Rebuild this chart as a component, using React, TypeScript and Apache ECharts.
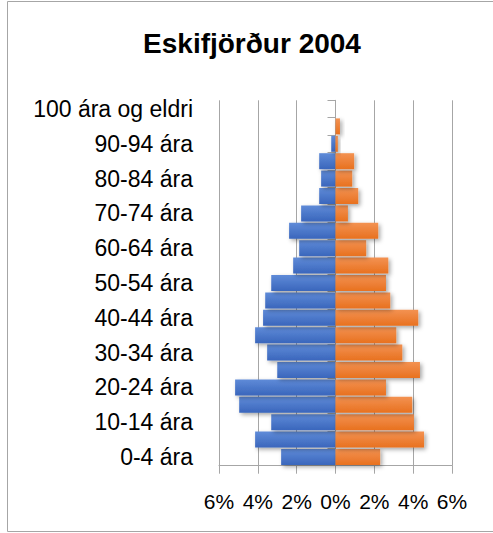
import React, { useEffect, useRef } from "react";
import * as echarts from "echarts";

const categories = [
  "0-4 ára", "5-9 ára", "10-14 ára", "15-19 ára", "20-24 ára", "25-29 ára",
  "30-34 ára", "35-39 ára", "40-44 ára", "45-49 ára", "50-54 ára", "55-59 ára",
  "60-64 ára", "65-69 ára", "70-74 ára", "75-79 ára", "80-84 ára", "85-89 ára",
  "90-94 ára", "95-99 ára", "100 ára og eldri",
];
const males = [2.8, 4.14, 3.31, 4.96, 5.17, 3.0, 3.52, 4.14, 3.73, 3.62, 3.31, 2.18, 1.87, 2.39, 1.77, 0.84, 0.74, 0.84, 0.22, 0, 0];
const females = [2.3, 4.56, 4.04, 3.95, 2.6, 4.35, 3.44, 3.13, 4.26, 2.82, 2.6, 2.72, 1.58, 2.2, 0.64, 1.17, 0.86, 0.96, 0.12, 0.23, 0];
const title = "Eskifjörður 2004";

const FONT = "'Liberation Sans', Arial, sans-serif";
const GRAY = "#A6A6A6";

export default function App() {
  const ref = useRef<HTMLDivElement>(null);
  useEffect(() => {
    if (!ref.current) return;
    const chart = echarts.init(ref.current, undefined, { renderer: "svg" });
    const blueGrad = new echarts.graphic.LinearGradient(0, 0, 0, 1, [
      { offset: 0, color: "#5F8BD8" },
      { offset: 1, color: "#3A66BC" },
    ]);
    const orangeGrad = new echarts.graphic.LinearGradient(0, 0, 0, 1, [
      { offset: 0, color: "#F39252" },
      { offset: 1, color: "#E8711F" },
    ]);
    chart.setOption({
      animation: false,
      backgroundColor: "#fff",
      graphic: [
        {
          type: "rect",
          shape: { x: 7.5, y: 1.5, width: 600, height: 530 },
          style: { fill: "none", stroke: GRAY, lineWidth: 1 },
          z: -1,
        },
        {
          type: "text",
          x: 252,
          y: 43,
          style: {
            text: title,
            font: `bold 28px ${FONT}`,
            fill: "#000",
            textAlign: "center",
            textVerticalAlign: "middle",
          },
        },
      ],
      grid: { left: 219, right: 41, top: 100.3, bottom: 67.3 },
      xAxis: {
        type: "value",
        min: -6,
        max: 6,
        interval: 2,
        axisLine: { show: true, lineStyle: { color: GRAY, width: 1 } },
        axisTick: { show: true, length: 8, lineStyle: { color: GRAY } },
        splitLine: { show: true, lineStyle: { color: GRAY, width: 1 } },
        axisLabel: {
          formatter: (v: number) => Math.abs(v) + "%",
          fontSize: 21,
          fontFamily: FONT,
          color: "#000",
          margin: 25,
        },
      },
      yAxis: [
        {
          type: "category",
          data: categories,
          position: "left",
          axisLine: { show: false, onZero: false },
          axisTick: { show: false },
          axisLabel: {
            interval: 1,
            fontSize: 23,
            fontFamily: FONT,
            color: "#000",
            margin: 26,
          },
        },
        {
          type: "category",
          data: categories,
          position: "left",
          axisLine: { show: true, onZero: true, lineStyle: { color: GRAY, width: 1 } },
          axisTick: { show: true, length: 8, lineStyle: { color: GRAY } },
          axisLabel: { show: false },
        },
      ],
      series: [
        {
          name: "Karlar",
          type: "bar",
          yAxisIndex: 0,
          data: males.map((v) => -v),
          barCategoryGap: "8%",
          barGap: "-100%",
          itemStyle: {
            color: blueGrad,
            shadowBlur: 4,
            shadowOffsetX: 2,
            shadowOffsetY: 2,
            shadowColor: "rgba(0,0,0,0.35)",
          },
        },
        {
          name: "Konur",
          type: "bar",
          yAxisIndex: 0,
          data: females,
          barCategoryGap: "8%",
          barGap: "-100%",
          itemStyle: {
            color: orangeGrad,
            shadowBlur: 4,
            shadowOffsetX: 2,
            shadowOffsetY: 2,
            shadowColor: "rgba(0,0,0,0.35)",
          },
        },
      ],
    });
    return () => chart.dispose();
  }, []);
  return (
    <div
      ref={ref}
      style={{ position: "absolute", left: 0, top: 0, width: 493, height: 533 }}
    />
  );
}
